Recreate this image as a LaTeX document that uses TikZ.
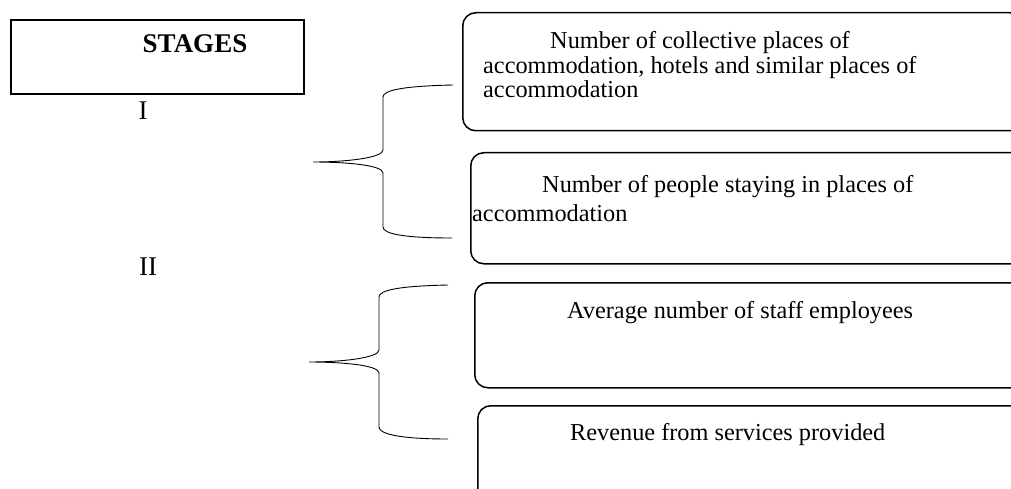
\documentclass[tikz,border=0pt]{standalone}
\usepackage{fontspec}
\setmainfont{Liberation Serif}
\usetikzlibrary{positioning}

\begin{document}
\begin{tikzpicture}[x=1pt, y=-1pt,
    stagebox/.style={draw, line width=1.6pt, minimum width=293pt, minimum height=74pt, anchor=north west, inner sep=0pt},
    itembox/.style={draw, line width=1.5pt, rounded corners=13pt, anchor=north west, inner sep=0pt, minimum width=560pt},
    itemtext/.style={anchor=base west, align=left, inner sep=0pt, font=\fontsize{24.3}{27.6}\selectfont},
    numeral/.style={font=\fontsize{27}{30}\selectfont, inner sep=0pt},
    brace/.style={line width=0.9pt}
]
\useasboundingbox (0,0) rectangle (1011,489);

% Stages heading and numerals
\node[stagebox] (stages) at (10,19) {};
\node[font=\bfseries\fontsize{27}{30}\selectfont] (title) at (195,44) {STAGES};
\node[numeral] (one) at (143,111) {I};
\node[numeral] (two) at (148,267) {II};

% Indicator boxes
\node[itembox, minimum height=118pt] (box1) at (462,12) {};
\node[itembox, minimum height=111pt] (box2) at (470,152) {};
\node[itembox, minimum height=105pt] (box3) at (474,282) {};
\node[itembox, minimum height=100pt] (box4) at (477,405) {};

\node[itemtext, font=\fontsize{24.3}{24.5}\selectfont] (text1) at (483,98) {\hspace*{67pt}Number of collective places of\\accommodation, hotels and similar places of\\accommodation};
\node[itemtext, font=\fontsize{24.3}{28.5}\selectfont] (text2) at (472,221) {\hspace*{70pt}Number of people staying in places of\\accommodation};
\node[itemtext] (text3) at (567,318) {Average number of staff employees};
\node[itemtext] (text4) at (570,440) {Revenue from services provided};

% Braces
\coordinate (tip1) at (313,162);
\coordinate (tip2) at (309,362);
\draw[brace] (453,85) .. controls (405,86) and (383,90) .. (383,97) -- (383,150)
    .. controls (383,158) and (345,162) .. (tip1)
    .. controls (345,162) and (383,165) .. (383,173) -- (383,227)
    .. controls (383,234) and (405,238) .. (452,238);
\draw[brace] (448,285) .. controls (400,286) and (379,290) .. (379,297) -- (379,350)
    .. controls (379,358) and (341,362) .. (tip2)
    .. controls (341,362) and (379,365) .. (379,373) -- (379,427)
    .. controls (379,434) and (400,439) .. (448,439);

\end{tikzpicture}
\end{document}
